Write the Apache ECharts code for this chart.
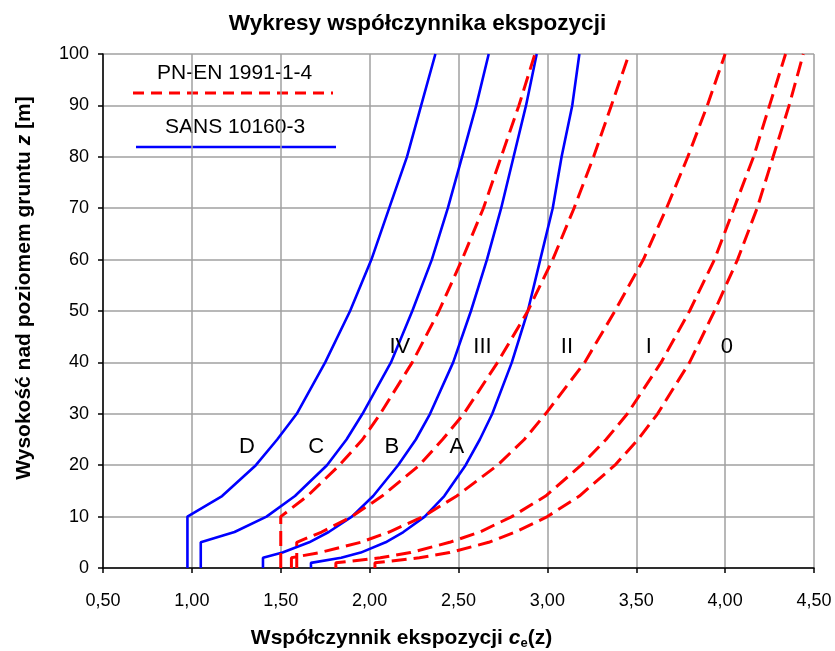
<!DOCTYPE html>
<html>
<head>
<meta charset="utf-8">
<script src="https://cdn.jsdelivr.net/npm/echarts@6/dist/echarts.min.js"></script>
<style>html,body{margin:0;padding:0;background:#fff}#c{width:835px;height:651px}</style>
</head>
<body>
<div id="c"></div>
<script>
// Heights above ground z [m]
const heights = [0, 1, 2, 3, 5, 7, 10, 14, 20, 25, 30, 40, 50, 60, 70, 80, 90, 100];
// SANS 10160-3 (terrain A..D)
const sansA = [1.67, 1.67, 1.84, 1.95, 2.09, 2.19, 2.31, 2.42, 2.54, 2.62, 2.69, 2.80, 2.89, 2.96, 3.03, 3.08, 3.14, 3.18];
const sansB = [1.40, 1.40, 1.40, 1.51, 1.66, 1.77, 1.90, 2.02, 2.16, 2.26, 2.34, 2.47, 2.57, 2.66, 2.74, 2.81, 2.88, 2.94];
const sansC = [1.05, 1.05, 1.05, 1.05, 1.05, 1.24, 1.42, 1.58, 1.76, 1.87, 1.96, 2.12, 2.24, 2.35, 2.44, 2.52, 2.60, 2.67];
const sansD = [0.975, 0.975, 0.975, 0.975, 0.975, 0.975, 0.975, 1.17, 1.36, 1.48, 1.59, 1.75, 1.89, 2.01, 2.11, 2.21, 2.29, 2.37];
// PN-EN 1991-1-4 (terrain categories 0..IV)
const pnen0 = [2.03, 2.03, 2.28, 2.45, 2.67, 2.82, 3.00, 3.18, 3.38, 3.51, 3.62, 3.80, 3.94, 4.07, 4.18, 4.27, 4.36, 4.44];
const pnenI = [1.81, 1.81, 2.06, 2.23, 2.45, 2.62, 2.80, 2.99, 3.19, 3.33, 3.45, 3.64, 3.80, 3.94, 4.05, 4.16, 4.25, 4.34];
const pnenII = [1.56, 1.56, 1.56, 1.72, 1.95, 2.11, 2.30, 2.49, 2.72, 2.87, 2.99, 3.21, 3.38, 3.54, 3.67, 3.79, 3.90, 4.00];
const pnenIII = [1.59, 1.59, 1.59, 1.59, 1.59, 1.73, 1.90, 2.07, 2.28, 2.41, 2.53, 2.72, 2.89, 3.03, 3.15, 3.26, 3.36, 3.46];
const pnenIV = [1.50, 1.50, 1.50, 1.50, 1.50, 1.50, 1.50, 1.65, 1.83, 1.96, 2.06, 2.24, 2.39, 2.52, 2.64, 2.74, 2.84, 2.93];
// Curve labels
const curveLabels = ['D', 'C', 'B', 'A', 'IV', 'III', 'II', 'I', '0'];
const labelCe = [1.31, 1.70, 2.125, 2.49, 2.17, 2.635, 3.11, 3.57, 4.01];
const labelZ = [23.5, 23.5, 23.5, 23.5, 43, 43, 43, 43, 43];
// Axis ticks
const xTicks = [0.5, 1.0, 1.5, 2.0, 2.5, 3.0, 3.5, 4.0, 4.5];
const yTicks = [0, 10, 20, 30, 40, 50, 60, 70, 80, 90, 100];

const FONT = '"Liberation Sans", Arial, sans-serif';
const toPairs = arr => heights.map((z, i) => [arr[i], z]);

const blueStyle = { color: '#0000ff', width: 2.6, type: 'solid', opacity: 1 };
const redStyle = { color: '#ff0000', width: 3, type: [15, 7], opacity: 1 };

function lineSeries(name, arr, style) {
  return {
    name: name, type: 'line', data: toPairs(arr), showSymbol: false, symbol: 'none',
    lineStyle: style, itemStyle: { color: style.color }, animation: false, silent: true, z: 3
  };
}

const chart = echarts.init(document.getElementById('c'), null, { renderer: 'canvas' });
chart.setOption({
  backgroundColor: '#ffffff',
  animation: false,
  title: {
    text: 'Wykresy współczynnika ekspozycji',
    left: 'center', top: 7,
    textStyle: { fontFamily: FONT, fontSize: 22.5, fontWeight: 'bold', color: '#000' }
  },
  grid: { left: 103, right: 21, top: 54, bottom: 83, containLabel: false, outerBoundsMode: 'none' },
  xAxis: {
    type: 'value', min: xTicks[0], max: xTicks[xTicks.length - 1], interval: 0.5,
    name: '{b|Współczynnik ekspozycji }{bi|c}{sub|e}{b|(z)}',
    nameLocation: 'middle', nameGap: 58,
    nameTextStyle: {
      padding: [0, 114, 0, 0],
      rich: {
        b: { fontFamily: FONT, fontSize: 21, fontWeight: 'bold', color: '#000' },
        bi: { fontFamily: FONT, fontSize: 21, fontWeight: 'bold', fontStyle: 'italic', color: '#000' },
        sub: { fontFamily: FONT, fontSize: 13, fontWeight: 'bold', color: '#000', verticalAlign: 'bottom', padding: [11, 0, 0, 0] }
      }
    },
    axisLine: { show: true, onZero: false, lineStyle: { color: '#000', width: 1.5 } },
    axisTick: { show: true, inside: false, length: 5, lineStyle: { color: '#000', width: 1.5 } },
    axisLabel: {
      margin: 24, fontFamily: FONT, fontSize: 18, color: '#000',
      formatter: v => v.toFixed(2).replace('.', ',')
    },
    splitLine: { show: true, lineStyle: { color: '#a0a0a0', width: 1.5 } }
  },
  yAxis: {
    type: 'value', min: yTicks[0], max: yTicks[yTicks.length - 1], interval: 10,
    name: '{b|Wysokość nad poziomem gruntu }{bi|z}{b| [m]}',
    nameLocation: 'middle', nameGap: 68, nameRotate: 90,
    nameTextStyle: {
      padding: [0, 0, 0, 46],
      rich: {
        b: { fontFamily: FONT, fontSize: 21, fontWeight: 'bold', color: '#000' },
        bi: { fontFamily: FONT, fontSize: 21, fontWeight: 'bold', fontStyle: 'italic', color: '#000' }
      }
    },
    axisLine: { show: true, onZero: false, lineStyle: { color: '#000', width: 1.5 } },
    axisTick: { show: true, inside: false, length: 5, lineStyle: { color: '#000', width: 1.5 } },
    axisLabel: { margin: 14, fontFamily: FONT, fontSize: 18, color: '#000' },
    splitLine: { show: true, lineStyle: { color: '#a0a0a0', width: 1.5 } }
  },
  graphic: [
    { type: 'text', left: 157, top: 63, silent: true,
      style: { text: 'PN-EN 1991-1-4', font: '21px ' + FONT, fill: '#000' } },
    { type: 'line', silent: true, shape: { x1: 133, y1: 93, x2: 333, y2: 93 },
      style: { stroke: '#ff0000', lineWidth: 3, lineDash: [11, 7] } },
    { type: 'text', left: 165, top: 117, silent: true,
      style: { text: 'SANS 10160-3', font: '21px ' + FONT, fill: '#000' } },
    { type: 'line', silent: true, shape: { x1: 136, y1: 147, x2: 336, y2: 147 },
      style: { stroke: '#0000ff', lineWidth: 2.6 } }
  ],
  series: [
    lineSeries('SANS 10160-3 A', sansA, blueStyle),
    lineSeries('SANS 10160-3 B', sansB, blueStyle),
    lineSeries('SANS 10160-3 C', sansC, blueStyle),
    lineSeries('SANS 10160-3 D', sansD, blueStyle),
    lineSeries('PN-EN 1991-1-4 0', pnen0, redStyle),
    lineSeries('PN-EN 1991-1-4 I', pnenI, redStyle),
    lineSeries('PN-EN 1991-1-4 II', pnenII, redStyle),
    lineSeries('PN-EN 1991-1-4 III', pnenIII, redStyle),
    lineSeries('PN-EN 1991-1-4 IV', pnenIV, redStyle),
    {
      name: 'labels', type: 'scatter', symbolSize: 0, silent: true, z: 5,
      itemStyle: { opacity: 1, color: '#000' },
      data: curveLabels.map((t, i) => ({ name: t, value: [labelCe[i], labelZ[i]] })),
      label: {
        show: true, position: 'inside', formatter: p => p.name, opacity: 1,
        fontFamily: FONT, fontSize: 22, color: '#000', textBorderWidth: 0
      }
    }
  ]
});
</script>
</body>
</html>
